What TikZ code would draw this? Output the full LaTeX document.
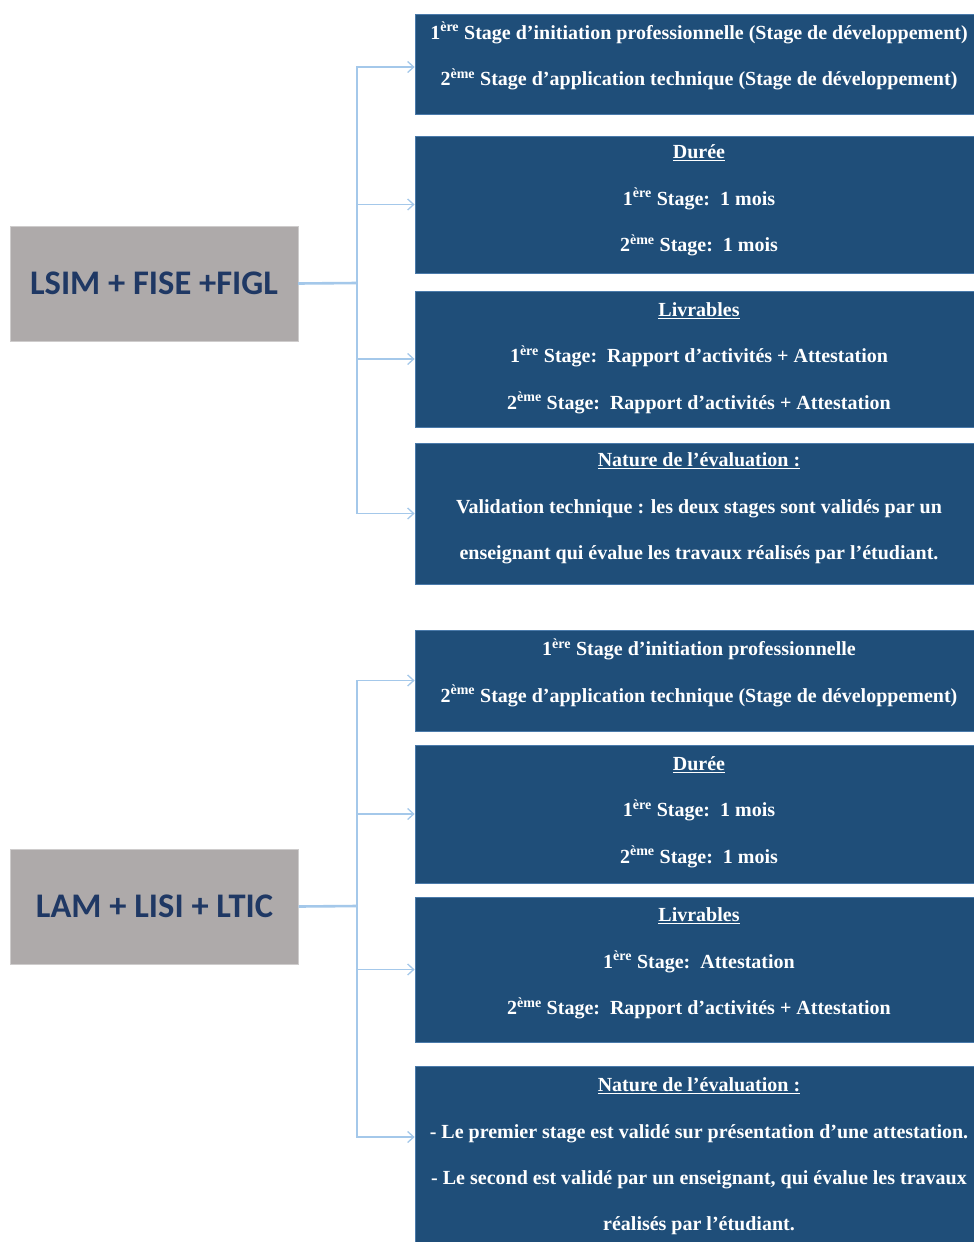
\documentclass[tikz,border=0pt]{standalone}
\usepackage{fontspec}
\setmainfont{Liberation Serif}
\newfontfamily\grpfont{Carlito}
\usetikzlibrary{arrows.meta}
\definecolor{boxblue}{RGB}{31,78,121}
\definecolor{boxedge}{RGB}{74,122,170}
\definecolor{boxgrey}{RGB}{174,170,170}
\definecolor{grptext}{RGB}{31,56,100}
\definecolor{linkblue}{RGB}{164,200,234}
\newcommand{\ier}{\textsuperscript{ère}}
\newcommand{\ieme}{\textsuperscript{ème}}
\begin{document}
\begin{tikzpicture}[
  infobox/.style={draw=boxedge, line width=0.8pt, fill=boxblue, minimum width=568pt, inner sep=0pt},
  boxtext/.style={text=white, align=center, inner sep=0pt, font=\fontsize{20}{46.3}\selectfont\bfseries},
  grpbox/.style={draw=boxgrey!60, fill=boxgrey, text=grptext, minimum width=288pt,
    minimum height=115pt, font=\grpfont\fontsize{34.5}{40}\selectfont\bfseries},
  trunk/.style={draw=linkblue, line width=2.6pt},
  branch/.style={draw=linkblue, line width=1.3pt, -{Straight Barb[length=6pt,width=11pt]}}]
\useasboundingbox (0pt,0pt) rectangle (974pt,-1242pt);
\fill[white] (0pt,0pt) rectangle (974pt,-1242pt);
\node[infobox, minimum height=100pt] (a1) at (699pt,-64pt) {};
\node[boxtext] (a1t) at ([yshift=8pt]a1)
  {1\ier{} Stage d’initiation professionnelle (Stage de développement)\\
   2\ieme{} Stage d’application technique (Stage de développement)};
\node[infobox, minimum height=137pt] (a2) at (699pt,-204.5pt) {};
\node[boxtext] (a2t) at ([yshift=4pt]a2)
  {\underline{Durée}\\ 1\ier{} Stage:\ \ 1 mois\\ 2\ieme{} Stage:\ \ 1 mois};
\node[infobox, minimum height=136pt] (a3) at (699pt,-359pt) {};
\node[boxtext] (a3t) at ([yshift=1pt]a3)
  {\underline{Livrables}\\ 1\ier{} Stage:\ \ Rapport d’activités + Attestation\\
   2\ieme{} Stage:\ \ Rapport d’activités + Attestation};
\node[infobox, minimum height=141pt] (a4) at (699pt,-513.5pt) {};
\node[boxtext] (a4t) at ([yshift=5pt]a4)
  {\underline{Nature de l’évaluation :}\\
   Validation technique : les deux stages sont validés par un\\
   enseignant qui évalue les travaux réalisés par l’étudiant.};
\node[grpbox] (lsim) at (154pt,-283.5pt) {LSIM + FISE +FIGL};
\coordinate (ja) at (357pt,-283pt);
\draw[trunk] (lsim.east) -- (ja);
\draw[branch] (ja) |- ([yshift=-3pt]a1.west);
\draw[branch] (ja) |- (a2.west);
\draw[branch] (ja) |- (a3.west);
\draw[branch] (ja) |- (a4.west);
\node[infobox, minimum height=101pt] (b1) at (699pt,-680.5pt) {};
\node[boxtext] (b1t) at ([yshift=8pt]b1)
  {1\ier{} Stage d’initiation professionnelle\\
   2\ieme{} Stage d’application technique (Stage de développement)};
\node[infobox, minimum height=138pt] (b2) at (699pt,-814pt) {};
\node[boxtext] (b2t) at ([yshift=2pt]b2)
  {\underline{Durée}\\ 1\ier{} Stage:\ \ 1 mois\\ 2\ieme{} Stage:\ \ 1 mois};
\node[infobox, minimum height=145pt] (b3) at (699pt,-969.5pt) {};
\node[boxtext] (b3t) at ([yshift=6pt]b3)
  {\underline{Livrables}\\ 1\ier{} Stage:\ \ Attestation\\
   2\ieme{} Stage:\ \ Rapport d’activités + Attestation};
\node[infobox, minimum height=184pt] (b4) at (699pt,-1158pt) {};
\node[boxtext] (b4t) at ([yshift=1.5pt]b4)
  {\underline{Nature de l’évaluation :}\\
   - Le premier stage est validé sur présentation d’une attestation.\\
   - Le second est validé par un enseignant, qui évalue les travaux\\
   réalisés par l’étudiant.};
\node[grpbox] (lam) at (154.5pt,-906.5pt) {LAM + LISI + LTIC};
\coordinate (jb) at (357pt,-906pt);
\draw[trunk] (lam.east) -- (jb);
\draw[branch] (jb) |- (b1.west);
\draw[branch] (jb) |- (b2.west);
\draw[branch] (jb) |- (b3.west);
\draw[branch] (jb) |- ([yshift=21pt]b4.west);
\end{tikzpicture}
\end{document}
